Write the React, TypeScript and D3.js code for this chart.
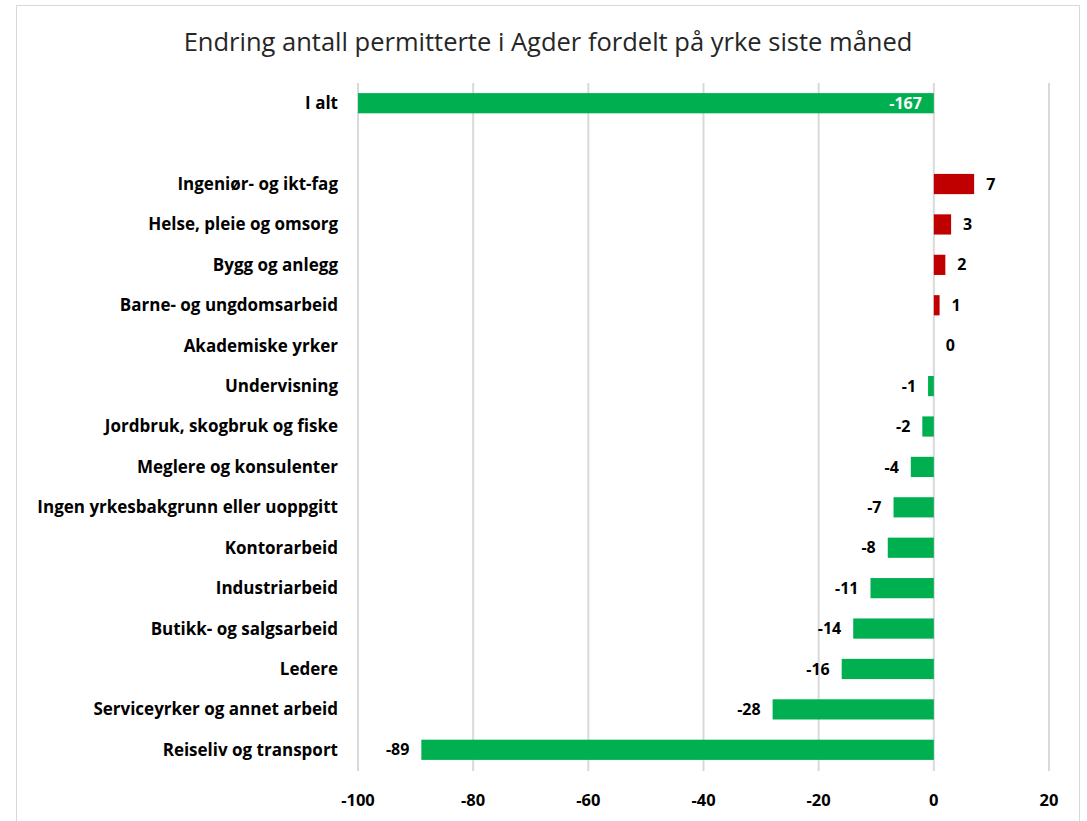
import React, { useEffect, useRef } from "react";
import * as d3 from "d3";

const categories = [
  "I alt",
  "Ingeniør- og ikt-fag",
  "Helse, pleie og omsorg",
  "Bygg og anlegg",
  "Barne- og ungdomsarbeid",
  "Akademiske yrker",
  "Undervisning",
  "Jordbruk, skogbruk og fiske",
  "Meglere og konsulenter",
  "Ingen yrkesbakgrunn eller uoppgitt",
  "Kontorarbeid",
  "Industriarbeid",
  "Butikk- og salgsarbeid",
  "Ledere",
  "Serviceyrker og annet arbeid",
  "Reiseliv og transport",
];
const values = [-167, 7, 3, 2, 1, 0, -1, -2, -4, -7, -8, -11, -14, -16, -28, -89];
const xTicks = [-100, -80, -60, -40, -20, 0, 20];
const title = "Endring antall permitterte i Agder fordelt på yrke siste måned";

const width = 1087;
const height = 821;
const margin = { top: 83, right: 38, bottom: 51, left: 358 };
const GAP = "__gap__";
const font = "'Open Sans', 'Noto Sans', sans-serif";

export default function App() {
  const svgRef = useRef<SVGSVGElement>(null);

  useEffect(() => {
    const svg = d3.select(svgRef.current);
    svg.selectAll("*").remove();

    const data = categories.map((name, i) => ({ name, value: values[i] }));
    const slots = [categories[0], GAP, ...categories.slice(1)];

    const xScale = d3
      .scaleLinear()
      .domain([-100, 20])
      .range([margin.left, width - margin.right])
      .clamp(true);

    const yScale = d3
      .scaleBand()
      .domain(slots)
      .range([margin.top, height - margin.bottom])
      .paddingInner(0.5)
      .paddingOuter(0.25);

    // chart border
    svg
      .append("rect")
      .attr("x", 16.5)
      .attr("y", 5.5)
      .attr("width", 1063)
      .attr("height", 830)
      .attr("fill", "white")
      .attr("stroke", "#d9d9d9");

    // title
    svg
      .append("text")
      .attr("x", 548)
      .attr("y", 51)
      .attr("text-anchor", "middle")
      .attr("font-family", font)
      .attr("font-size", 25.5)
      .attr("fill", "#262626")
      .text(title);

    // grid lines
    svg
      .append("g")
      .selectAll("line")
      .data(xTicks)
      .enter()
      .append("line")
      .attr("x1", (d) => xScale(d))
      .attr("x2", (d) => xScale(d))
      .attr("y1", margin.top)
      .attr("y2", height - margin.bottom + 1)
      .attr("stroke", "#d9d9d9")
      .attr("stroke-width", 2);

    // x tick labels
    svg
      .append("g")
      .selectAll("text")
      .data(xTicks)
      .enter()
      .append("text")
      .attr("x", (d) => xScale(d))
      .attr("y", 806)
      .attr("text-anchor", "middle")
      .attr("font-family", font)
      .attr("font-weight", "bold")
      .attr("font-size", 16.5)
      .attr("fill", "#000")
      .text((d) => d);

    // category labels
    svg
      .append("g")
      .selectAll("text")
      .data(data)
      .enter()
      .append("text")
      .attr("x", margin.left - 20)
      .attr("y", (d) => yScale(d.name)! + yScale.bandwidth() / 2)
      .attr("dy", "0.35em")
      .attr("text-anchor", "end")
      .attr("font-family", font)
      .attr("font-weight", "bold")
      .attr("font-size", 17)
      .attr("fill", "#000")
      .text((d) => d.name);

    // bars
    svg
      .append("g")
      .selectAll("rect")
      .data(data.filter((d) => d.value !== 0))
      .enter()
      .append("rect")
      .attr("x", (d) => Math.min(xScale(0), xScale(d.value)))
      .attr("y", (d) => yScale(d.name)!)
      .attr("width", (d) => Math.abs(xScale(d.value) - xScale(0)))
      .attr("height", yScale.bandwidth())
      .attr("fill", (d) => (d.value > 0 ? "#C00000" : "#00B050"));

    // value labels
    svg
      .append("g")
      .selectAll("text")
      .data(data)
      .enter()
      .append("text")
      .attr("x", (d) => {
        if (d.value < -100) return xScale(0) - 12;
        return d.value < 0 ? xScale(d.value) - 12 : xScale(d.value) + 12;
      })
      .attr("y", (d) => yScale(d.name)! + yScale.bandwidth() / 2)
      .attr("dy", "0.35em")
      .attr("text-anchor", (d) => (d.value < 0 ? "end" : "start"))
      .attr("font-family", font)
      .attr("font-weight", "bold")
      .attr("font-size", 16)
      .attr("fill", (d) => (d.value < -100 ? "#fff" : "#000"))
      .text((d) => d.value);
  }, []);

  return (
    <div style={{ position: "absolute", left: 0, top: 0 }}>
      <svg ref={svgRef} width={width} height={height} style={{ display: "block" }} />
    </div>
  );
}
